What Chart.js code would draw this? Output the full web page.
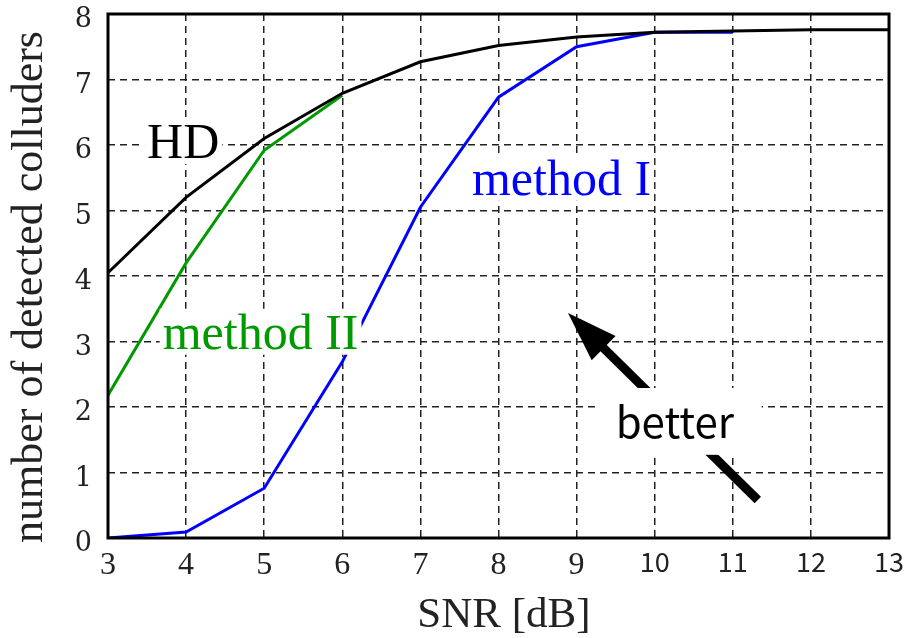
<!DOCTYPE html>
<html>
<head>
<meta charset="utf-8">
<script src="https://cdn.jsdelivr.net/npm/chart.js@4/dist/chart.umd.min.js"></script>
<style>
  html, body { margin: 0; padding: 0; background: #fff; }
  #wrap { width: 908px; height: 638px; }
</style>
</head>
<body>
<div id="wrap"><canvas id="chart" width="908" height="638"></canvas></div>
<script>
// データ
const snrTicks = [3, 4, 5, 6, 7, 8, 9, 10, 11, 12, 13];
const yTicks = [0, 1, 2, 3, 4, 5, 6, 7, 8];

const hdSnr = [3, 4, 5, 6, 7, 8, 9, 10, 11, 12, 13];
const hdValues = [4.05, 5.2, 6.1, 6.79, 7.27, 7.52, 7.65, 7.72, 7.74, 7.76, 7.76];

const method1Snr = [3, 4, 5, 6, 7, 8, 9, 10, 11];
const method1Values = [0, 0.09, 0.76, 2.69, 5.05, 6.73, 7.5, 7.72, 7.72];

const method2Snr = [3, 4, 5, 6];
const method2Values = [2.18, 4.2, 5.92, 6.76];

// 曲線ラベル（データ座標）
const curveLabels = [
    { text: 'HD', x: 3.5, y: 5.8, color: '#000' },
    { text: 'method I', x: 7.66, y: 5.24, color: '#0000ff' },
    { text: 'method II', x: 3.7, y: 2.89, color: '#009a00' }
];

// 矢印と "better" の注記（データ座標）
const arrowTip = { x: 8.89, y: 3.435 };
const arrowTail = { x: 11.32, y: 0.58 };
const betterBox = { x1: 9.24, x2: 11.37, y1: 2.29, y2: 1.27 };
const betterText = { text: 'better', x: 9.5, y: 1.53 };

const serif = '"Liberation Serif", "DejaVu Serif", serif';
const tickSerif = '"DejaVu Serif", "Liberation Serif", serif';
const gothic = '"Noto Sans CJK JP", "Noto Sans", sans-serif';

function toPoints(xs, ys) {
    return xs.map((x, i) => ({ x: x, y: ys[i] }));
}

const annotationPlugin = {
    id: 'annotations',
    afterDatasetsDraw(chart) {
        const ctx = chart.ctx;
        const xs = chart.scales.x;
        const ys = chart.scales.y;
        const area = chart.chartArea;
        ctx.save();

        // 曲線ラベル（白背景付き）
        ctx.font = '50px ' + serif;
        ctx.textBaseline = 'alphabetic';
        ctx.textAlign = 'left';
        curveLabels.forEach(l => {
            const px = xs.getPixelForValue(l.x);
            const py = ys.getPixelForValue(l.y);
            const m = ctx.measureText(l.text);
            ctx.fillStyle = '#fff';
            ctx.fillRect(px - 3, py - m.actualBoundingBoxAscent - 4,
                         m.width + 6, m.actualBoundingBoxAscent + 10);
            ctx.fillStyle = l.color;
            ctx.fillText(l.text, px, py);
        });

        // 矢印
        const tx = xs.getPixelForValue(arrowTip.x), ty = ys.getPixelForValue(arrowTip.y);
        const ex = xs.getPixelForValue(arrowTail.x), ey = ys.getPixelForValue(arrowTail.y);
        const ang = Math.atan2(ty - ey, tx - ex);
        const headLen = 50, headHalf = 17;
        const bx = tx - headLen * Math.cos(ang), by = ty - headLen * Math.sin(ang);
        ctx.strokeStyle = '#000';
        ctx.lineWidth = 9;
        ctx.beginPath();
        ctx.moveTo(ex, ey);
        ctx.lineTo(bx + 5 * Math.cos(ang), by + 5 * Math.sin(ang));
        ctx.stroke();
        ctx.fillStyle = '#000';
        ctx.beginPath();
        ctx.moveTo(tx, ty);
        ctx.lineTo(bx + headHalf * Math.sin(ang), by - headHalf * Math.cos(ang));
        ctx.lineTo(bx - headHalf * Math.sin(ang), by + headHalf * Math.cos(ang));
        ctx.closePath();
        ctx.fill();

        // "better" の白枠
        const x1 = xs.getPixelForValue(betterBox.x1), x2 = xs.getPixelForValue(betterBox.x2);
        const y1 = ys.getPixelForValue(betterBox.y1), y2 = ys.getPixelForValue(betterBox.y2);
        ctx.fillStyle = '#fff';
        ctx.fillRect(x1, y1, x2 - x1, y2 - y1);
        ctx.fillStyle = '#000';
        ctx.font = '42px ' + gothic;
        ctx.fillText(betterText.text, xs.getPixelForValue(betterText.x), ys.getPixelForValue(betterText.y));

        // 枠線
        ctx.strokeStyle = '#000';
        ctx.lineWidth = 3;
        ctx.setLineDash([]);
        ctx.strokeRect(area.left, area.top, area.right - area.left, area.bottom - area.top);
        ctx.restore();
    }
};

const gridStyle = {
    color: '#222',
    lineWidth: 1.5,
    drawTicks: false
};

const borderStyle = { display: false, dash: [7, 5] };

new Chart(document.getElementById('chart'), {
    type: 'line',
    data: {
        datasets: [
            {
                label: 'HD',
                data: toPoints(hdSnr, hdValues),
                borderColor: '#000',
                borderWidth: 3
            },
            {
                label: 'method I',
                data: toPoints(method1Snr, method1Values),
                borderColor: '#0000ff',
                borderWidth: 3
            },
            {
                label: 'method II',
                data: toPoints(method2Snr, method2Values),
                borderColor: '#009a00',
                borderWidth: 3
            }
        ]
    },
    options: {
        responsive: false,
        animation: false,
        events: [],
        elements: { point: { radius: 0 }, line: { tension: 0 } },
        layout: { padding: { top: 14, right: 19, left: 0, bottom: 0 } },
        plugins: {
            legend: { display: false },
            tooltip: { enabled: false }
        },
        scales: {
            x: {
                type: 'linear',
                min: snrTicks[0],
                max: snrTicks[snrTicks.length - 1],
                afterBuildTicks: (scale) => { scale.ticks = snrTicks.map(v => ({ value: v })); },
                afterFit: (scale) => {
                    scale.height = 100;
                    scale.paddingLeft = 0;
                    scale.paddingRight = 0;
                },
                grid: gridStyle,
                border: borderStyle,
                ticks: {
                    color: '#222',
                    padding: 8,
                    maxRotation: 0,
                    font: (c) => (c.tick && c.tick.value >= 10)
                        ? { family: gothic, size: 27 }
                        : { family: serif, size: 32 }
                },
                title: {
                    display: true,
                    text: ' SNR [dB]',
                    color: '#222',
                    font: { family: serif, size: 43, lineHeight: 1 },
                    padding: { top: 0, bottom: 1 }
                }
            },
            y: {
                type: 'linear',
                min: yTicks[0],
                max: yTicks[yTicks.length - 1],
                afterBuildTicks: (scale) => { scale.ticks = yTicks.map(v => ({ value: v })); },
                afterFit: (scale) => {
                    scale.width = 108;
                    scale.paddingTop = 0;
                    scale.paddingBottom = 0;
                },
                grid: gridStyle,
                border: borderStyle,
                ticks: {
                    color: '#222',
                    padding: 16,
                    labelOffset: 6,
                    font: { family: tickSerif, size: 27 }
                },
                title: {
                    display: true,
                    text: 'number of detected colluders  ',
                    color: '#222',
                    font: { family: serif, size: 44, lineHeight: 1 },
                    padding: { top: 8, bottom: 0 }
                }
            }
        }
    },
    plugins: [annotationPlugin]
});
</script>
</body>
</html>
